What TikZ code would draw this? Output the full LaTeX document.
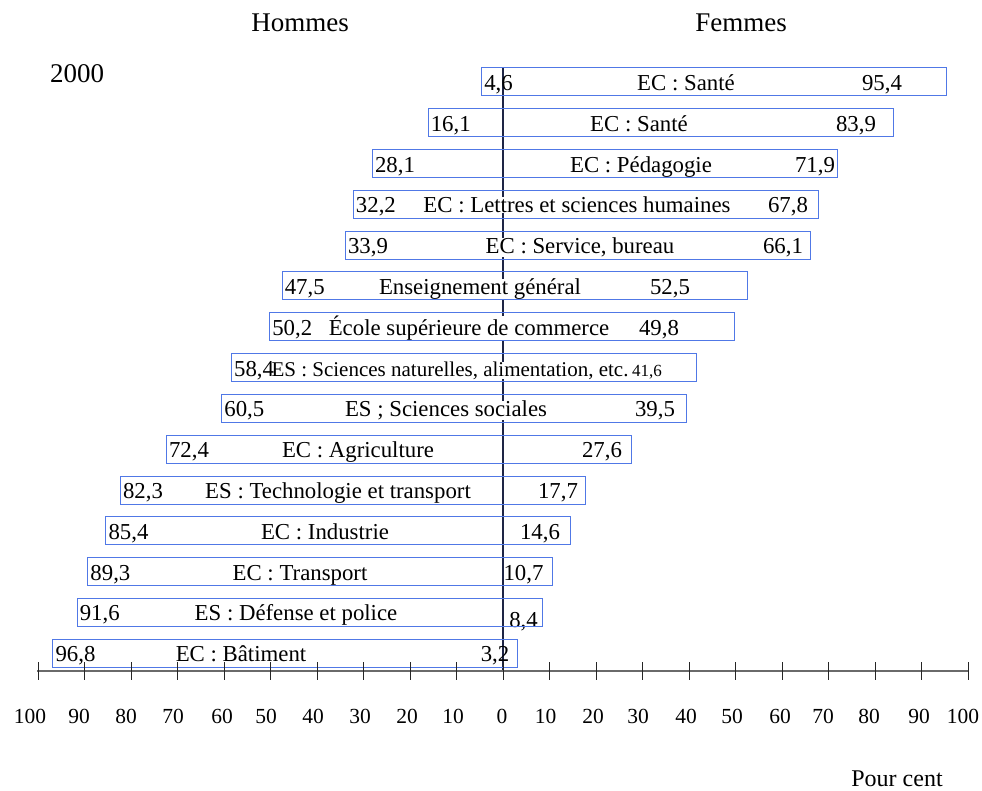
\documentclass[tikz,border=0pt]{standalone}
\usepackage{fontspec}
\setmainfont{Liberation Serif}
\usetikzlibrary{positioning}
\definecolor{barblue}{HTML}{5078E6}
\definecolor{axisnavy}{HTML}{1E2545}
\definecolor{axisgrey}{HTML}{6A6A6A}
\tikzset{
  bar/.style={draw=barblue,line width=1pt},
  num/.style={inner sep=0pt,anchor=base,font=\fontsize{22.8}{26}\selectfont},
  cat/.style={num,fill=white,inner xsep=1pt},
  head/.style={inner sep=0pt,anchor=base,font=\fontsize{27}{32}\selectfont},
  ticklab/.style={inner sep=0pt,anchor=base,font=\fontsize{21.5}{25}\selectfont},
  tickmark/.style={line width=0.9pt,black!85},
}

\begin{document}
\begin{tikzpicture}[x=1pt,y=-1pt]
  \useasboundingbox (0,0) rectangle (982,791);
  % headings
  \node[head] (hommes) at (300,31.7) {Hommes};
  \node[head] (femmes) at (741,31.7) {Femmes};
  \node[head] (year) at (77,83) {2000};
  % centre line
  \coordinate (ctop) at (503,68);
  \coordinate (cbot) at (503,671);
  \draw[axisnavy,line width=1.6pt] (ctop) -- (cbot);
  % one bar per field
  \foreach \m/\f/\ms/\fs/\lx/\fx/\lab [count=\i] in {
      4.6/95.4/{4,6}/{95,4}/686/882/{EC : Santé},
      16.1/83.9/{16,1}/{83,9}/639/856/{EC : Santé},
      28.1/71.9/{28,1}/{71,9}/641/815/{EC : Pédagogie},
      32.2/67.8/{32,2}/{67,8}/577/788/{EC : Lettres et sciences humaines},
      33.9/66.1/{33,9}/{66,1}/580/783/{EC : Service, bureau},
      47.5/52.5/{47,5}/{52,5}/480/670/{Enseignement général},
      50.2/49.8/{50,2}/{49,8}/469/659/{École supérieure de commerce},
      58.4/41.6/{58,4}/{\fontsize{17}{20}\selectfont 41,6}/450/647/{\fontsize{21}{24}\selectfont ES : Sciences naturelles, alimentation, etc.},
      60.5/39.5/{60,5}/{39,5}/446/655/{ES ; Sciences sociales},
      72.4/27.6/{72,4}/{27,6}/358/602/{EC : Agriculture},
      82.3/17.7/{82,3}/{17,7}/338/558/{ES : Technologie et transport},
      85.4/14.6/{85,4}/{14,6}/325/540/{EC : Industrie},
      89.3/10.7/{89,3}/{10,7}/300/523.5/{EC : Transport},
      91.6/8.4/{91,6}/{\raisebox{-7pt}{8,4}}/296/523.5/{ES : Défense et police},
      96.8/3.2/{96,8}/{3,2}/241/495/{EC : Bâtiment}}{
    \pgfmathsetmacro\yc{82+(\i-1)*40.8}
    \pgfmathsetmacro\xl{503-4.65*\m}
    \pgfmathsetmacro\xr{503+4.65*\f}
    \node[cat] (lab\i) at (\lx,\yc+8.5) {\lab};
    \node[num,anchor=base west] (men\i) at (\xl+2.5,\yc+8.5) {\ms};
    \node[num] (women\i) at (\fx,\yc+8.5) {\fs};
    \draw[bar] (\xl,\yc-14) rectangle (\xr,\yc+14);
  }
  % axis
  \coordinate (axl) at (37,671);
  \coordinate (axr) at (968,671);
  \draw[axisgrey,line width=2pt] (axl) -- (axr);
  \foreach \v in {-100,-90,...,100}{
    \draw[tickmark] (503+4.65*\v,662) -- (503+4.65*\v,680);
  }
  \foreach \x/\t [count=\k] in {30/100,79/90,126/80,173/70,222/60,266/50,
      313/40,360/30,407/20,453/10,502/0,545.5/10,593/20,638/30,686/40,
      732/50,780/60,823/70,869/80,919/90,963/100}{
    \node[ticklab] (tl\k) at (\x,723) {\t};
  }
  \node[num,font=\fontsize{24}{28}\selectfont] (unit) at (897,786) {Pour cent};
\end{tikzpicture}
\end{document}
